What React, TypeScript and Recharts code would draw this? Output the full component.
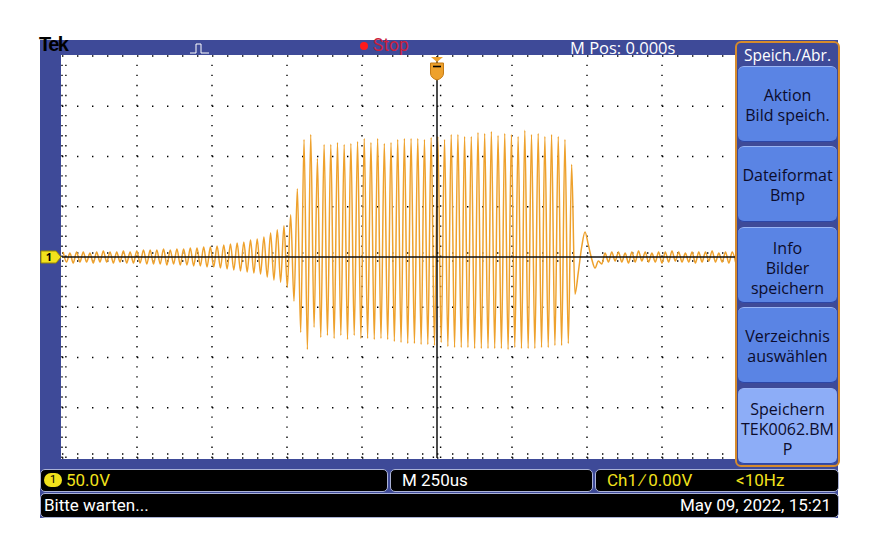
import React from 'react';
import { LineChart, Line, XAxis, YAxis, ReferenceLine } from 'recharts';

const BLUE = '#3e4a98';
const TRACE = '#eea12c';
const YELLOW = '#f2e21c';

// 250us/div, 50V/div, 10 x 8 divisions
const gridTimes = [0, 250, 500, 750, 1000, 1500, 1750, 2000, 2250];
const gridVolts = [-200, -150, -100, -50, 50, 100, 150, 200];

// sample clock of the trace (one peak or trough per half period)
const halfPeriodUs = 11.15;
const firstPeakUs = 4;

// positive half-wave maxima, read per cycle (volts)
const peakVolts = [
  5, 4, 5, 5, 4, 5, 6, 5, 5, 6, 5,
  6, 7, 7, 7, 8, 7, 8, 8, 9,
  9, 10, 10, 11, 12, 13, 14, 15, 17, 18,
  20, 24, 27, 31, 42, 68,
  117, 122, 98, 112, 112, 114, 112, 113, 115, 118,
  114, 118, 113, 114, 117, 118, 118, 118, 117, 119,
  120, 117, 122, 122, 120, 120, 124, 123, 125, 121,
  123, 122, 120, 126, 122, 123, 120, 122, 120, 117,
  92, -15, 25, -2, -4,
  4, 5, 5, 4, 5, 6, 5, 4, 5, 5,
  6, 5, 4, 5, 5, 5, 6, 4, 5, 5,
];

// negative half-wave minima, read per cycle (volts)
const troughVolts = [
  -5, -6, -5, -5, -6, -5, -5, -6, -5, -6, -6,
  -6, -7, -7, -7, -8, -7, -8, -8, -9,
  -9, -10, -10, -11, -12, -13, -14, -15, -16, -17,
  -20, -23, -25, -30, -44,
  -75, -92, -70, -80, -78, -81, -78, -82, -78, -81,
  -81, -82, -81, -82, -84, -85, -86, -86, -87, -87,
  -88, -85, -89, -90, -90, -90, -91, -91, -91, -91,
  -91, -92, -90, -91, -91, -91, -90, -90, -88, -88,
  -86,
  -37, 10, 12, -11, -7,
  -5, -4, -5, -6, -5, -4, -5, -5, -6, -5,
  -4, -5, -5, -6, -5, -4, -5, -5, -6, -5,
];

const waveData = peakVolts.flatMap((p, n) => [
  { t: firstPeakUs + 2 * n * halfPeriodUs, v: p },
  { t: firstPeakUs + (2 * n + 1) * halfPeriodUs, v: troughVolts[n] },
]);

const menuTitle = 'Speich./Abr.';
const menuButtons = [
  ['Aktion', 'Bild speich.'],
  ['Dateiformat', 'Bmp'],
  ['Info', 'Bilder', 'speichern'],
  ['Verzeichnis', 'auswählen'],
  ['Speichern', 'TEK0062.BM', 'P'],
];

const TriggerMark = (props: any) => {
  const { x, y } = props.viewBox;
  return (
    <g>
      <path d={`M${x - 6},${y + 1} L${x + 6},${y + 1} L${x},${y + 6} Z`} fill={TRACE} />
      <path
        d={`M${x - 6.5},${y + 7} h13 v10 q0,5 -6.5,7 q-6.5,-2 -6.5,-7 Z`}
        fill={TRACE}
        stroke="#c47a14"
        strokeWidth={1}
      />
      <path d={`M${x - 4},${y + 10.5} h8`} stroke="#000" strokeWidth={1.6} />
    </g>
  );
};

const ChannelMark = (props: any) => {
  const { x, y } = props.viewBox;
  return (
    <g>
      <path
        d={`M${x - 21},${y - 6} H${x - 6} L${x - 1},${y} L${x - 6},${y + 6} H${x - 21} Z`}
        fill={YELLOW}
        stroke="#9a8a00"
        strokeWidth={1}
      />
      <text x={x - 13} y={y + 4} fontSize={11} fontWeight="bold" textAnchor="middle" fill="#000" fontFamily="Open Sans">
        1
      </text>
    </g>
  );
};

const barBox: React.CSSProperties = {
  position: 'absolute',
  background: '#000',
  border: '1px solid #aab2d6',
  borderRadius: 5,
  boxSizing: 'border-box',
  fontFamily: 'Roboto, sans-serif',
  fontSize: 17,
  lineHeight: '20px',
  color: '#fff',
  whiteSpace: 'nowrap',
};

export default function App() {
  return (
    <div
      style={{
        position: 'fixed',
        left: 0,
        top: 0,
        width: 880,
        height: 560,
        background: '#fff',
        overflow: 'hidden',
        fontFamily: '"Open Sans", sans-serif',
      }}
    >
      <div style={{ position: 'absolute', left: 40, top: 40, width: 798, height: 478, background: BLUE }} />
      <div style={{ position: 'absolute', left: 61, top: 55, width: 676, height: 404, background: '#fff' }} />

      <div style={{ position: 'absolute', left: 0, top: 0 }}>
        <LineChart width={880} height={560} data={waveData} margin={{ top: 56, right: 68, bottom: 102, left: 62 }}>
          <XAxis dataKey="t" type="number" domain={[0, 2500]} hide />
          <YAxis type="number" domain={[-200, 200]} hide />
          {gridVolts.map((v) => (
            <ReferenceLine key={'h' + v} y={v} stroke="#000" strokeWidth={1.4} strokeDasharray="1.4 13.6" />
          ))}
          {gridTimes.map((t) => (
            <ReferenceLine key={'v' + t} x={t} stroke="#000" strokeWidth={1.4} strokeDasharray="1.4 8.65" />
          ))}
          <ReferenceLine x={13} stroke="#000" strokeWidth={1.4} strokeDasharray="1.4 8.65" />
          <ReferenceLine x={1238} stroke="#000" strokeWidth={1.4} strokeDasharray="1.4 8.65" />
          <ReferenceLine x={1262} stroke="#000" strokeWidth={1.4} strokeDasharray="1.4 8.65" />
          <ReferenceLine y={4} stroke="#000" strokeWidth={1.4} strokeDasharray="1.4 13.6" />
          <ReferenceLine y={-4} stroke="#000" strokeWidth={1.4} strokeDasharray="1.4 13.6" />
          <ReferenceLine y={-196} stroke="#000" strokeWidth={1.4} strokeDasharray="1.4 13.6" />
          <Line
            type="monotone"
            dataKey="v"
            stroke={TRACE}
            strokeWidth={1.5}
            dot={false}
            isAnimationActive={false}
          />
          <ReferenceLine y={0} stroke="#111" strokeWidth={1.5} label={<ChannelMark />} />
          <ReferenceLine x={1250} stroke="#111" strokeWidth={1.5} label={<TriggerMark />} />
        </LineChart>
      </div>

      {/* top status bar */}
      <div style={{ position: 'absolute', left: 40, top: 40, width: 696, height: 15, background: BLUE }} />
      <div
        style={{
          position: 'absolute',
          left: 39,
          top: 33,
          fontFamily: '"Liberation Sans", Arial, sans-serif',
          fontWeight: 'bold',
          fontSize: 20,
          letterSpacing: -1.5,
          color: '#000',
        }}
      >
        Tek
      </div>
      <svg style={{ position: 'absolute', left: 189, top: 42 }} width={22} height={13}>
        <polyline points="1,11 7,11 7,2 12,2 12,11 20,11" fill="none" stroke="#fff" strokeWidth={1} />
      </svg>
      <div style={{ position: 'absolute', left: 360, top: 42, width: 8, height: 8, borderRadius: 4, background: '#ff1a1a' }} />
      <div style={{ position: 'absolute', left: 373, top: 35, fontSize: 17.5, color: '#cc1f3d', fontFamily: 'Roboto, sans-serif' }}>
        Stop
      </div>
      <div style={{ position: 'absolute', left: 570, top: 36, fontSize: 16.5, color: '#fff', fontFamily: '"Open Sans", sans-serif' }}>
        M Pos: 0.000s
      </div>

      {/* side menu */}
      <div
        style={{
          position: 'absolute',
          left: 735,
          top: 41,
          width: 105,
          height: 426,
          border: '2px solid #d68b2c',
          borderRadius: 6,
          background: BLUE,
          boxSizing: 'border-box',
        }}
      >
        <div style={{ position: 'absolute', left: 0, top: 1, width: '100%', textAlign: 'center', color: '#fff', fontSize: 15.5 }}>
          {menuTitle}
        </div>
        {menuButtons.map((lines, i) => (
          <div
            key={i}
            style={{
              position: 'absolute',
              left: 1,
              top: 23 + i * 80.4,
              width: 99,
              height: 76,
              borderRadius: 6,
              background: i === 4 ? '#8dadf7' : '#5a84e4',
              borderTop: '1px solid #9ab6f5',
              borderBottom: '1px solid #2c46a8',
              boxSizing: 'border-box',
              display: 'flex',
              flexDirection: 'column',
              justifyContent: 'center',
              alignItems: 'center',
              color: '#0c0c2c',
              fontSize: 16,
              lineHeight: '20px',
              paddingTop: lines.length === 3 ? 6 : 2,
              whiteSpace: 'nowrap',
            }}
          >
            {lines.map((l) => (
              <div key={l} style={{ height: 20 }}>{l}</div>
            ))}
          </div>
        ))}
      </div>

      {/* bottom readouts */}
      <div style={{ ...barBox, left: 40, top: 469, width: 348, height: 23 }}>
        <div
          style={{
            position: 'absolute',
            left: 3,
            top: 3,
            width: 18,
            height: 14,
            borderRadius: 7,
            background: YELLOW,
            color: '#000',
            fontSize: 11,
            lineHeight: '14px',
            textAlign: 'center',
          }}
        >
          1
        </div>
        <span style={{ position: 'absolute', left: 25, top: 0, color: YELLOW }}>50.0V</span>
      </div>
      <div style={{ ...barBox, left: 390, top: 469, width: 203, height: 23 }}>
        <span style={{ position: 'absolute', left: 11, top: 0 }}>M 250us</span>
      </div>
      <div style={{ ...barBox, left: 595, top: 469, width: 244, height: 23 }}>
        <span style={{ position: 'absolute', left: 11, top: 0, color: YELLOW }}>Ch1 ∕ 0.00V</span>
        <span style={{ position: 'absolute', left: 140, top: 0, color: YELLOW }}>&lt;10Hz</span>
      </div>
      <div style={{ ...barBox, left: 40, top: 493, width: 799, height: 25 }}>
        <span style={{ position: 'absolute', left: 3, top: 1 }}>Bitte warten...</span>
        <span style={{ position: 'absolute', right: 7, top: 1 }}>May 09, 2022, 15:21</span>
      </div>
    </div>
  );
}
